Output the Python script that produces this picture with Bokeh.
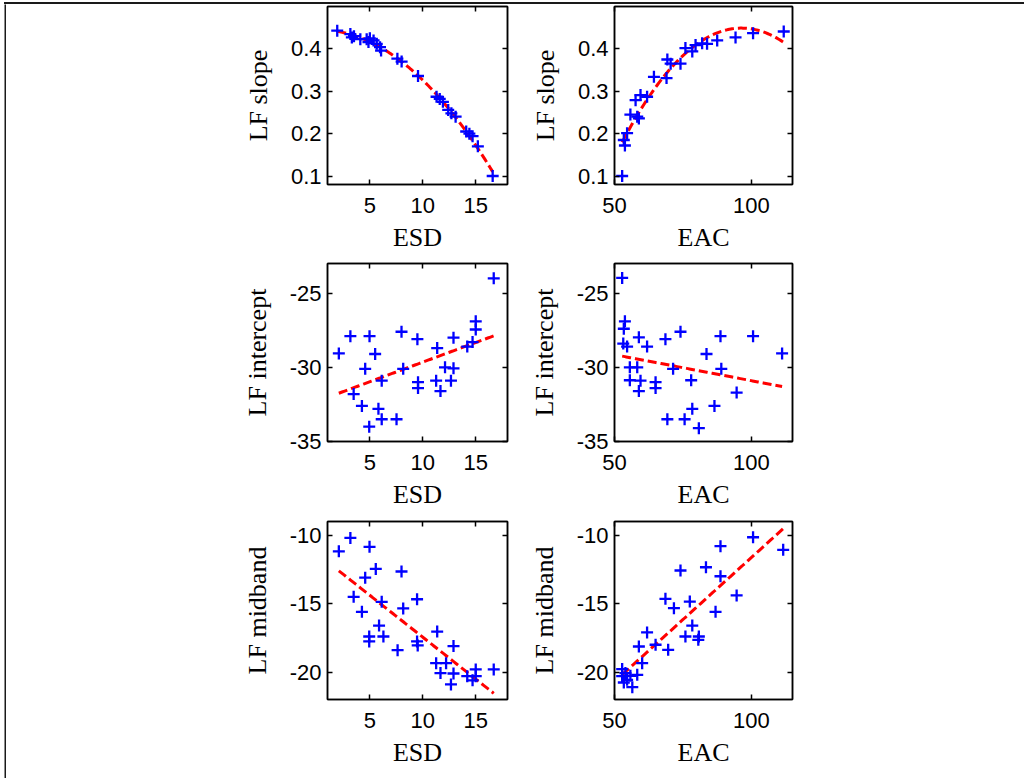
import numpy as np
from bokeh.plotting import figure
from bokeh.layouts import column, row, Spacer
from bokeh.models import FixedTicker, LinearAxis, Range1d, Div
from bokeh.embed import file_html
from bokeh.resources import INLINE

# ---------------- data ----------------
esd_slope_x = [1.92, 3.16, 3.3, 3.5, 4.1, 4.7, 4.87, 5.0, 5.35, 5.65, 5.96, 6.06, 7.6, 8.0,
               9.55, 11.3, 11.6, 11.9, 12.4, 12.7, 13.1, 14.1, 14.4, 14.7, 15.2, 16.6]
esd_slope_y = [0.443, 0.435, 0.427, 0.430, 0.423, 0.423, 0.416, 0.425, 0.42, 0.412, 0.404, 0.396,
               0.377, 0.37, 0.336, 0.287, 0.282, 0.275, 0.256, 0.248, 0.24, 0.205, 0.2, 0.194,
               0.17, 0.10]

eac_slope_x = [52.8, 53.4, 53.8, 54.6, 55.8, 58.3, 58.9, 57.7, 59.5, 61.9, 64.4, 69.0, 69.3,
               70.5, 74.1, 75.9, 78.4, 79.6, 82.0, 83.8, 87.5, 94.2, 100.6, 111.8]
eac_slope_y = [0.100, 0.185, 0.172, 0.201, 0.245, 0.240, 0.236, 0.279, 0.291, 0.287, 0.334,
               0.331, 0.375, 0.365, 0.365, 0.402, 0.394, 0.409, 0.413, 0.412, 0.420, 0.427,
               0.437, 0.441]

esd_int_x = [2.07, 3.16, 4.97, 4.56, 5.5, 3.47, 4.25, 4.94, 5.81, 6.12, 7.52, 6.12, 7.99, 8.15,
             9.49, 9.55, 9.55, 11.36, 11.26, 11.67, 12.1, 12.9, 12.66, 12.9, 14.2, 15.0, 15.0,
             14.7, 16.7]
esd_int_y = [-29.06, -27.9, -27.9, -30.1, -29.1, -31.8, -32.6, -34.0, -32.8, -33.5, -33.5,
             -30.9, -27.6, -30.1, -28.1, -31.0, -31.4, -28.7, -30.9, -31.6, -30.0, -30.07,
             -30.9, -28.0, -28.6, -26.9, -27.45, -28.3, -24.0]

eac_int_x = [52.8, 53.8, 53.4, 53.2, 54.6, 58.9, 61.9, 55.6, 58.3, 55.6, 59.5, 58.9, 65.0,
             65.0, 68.6, 74.1, 71.4, 69.3, 75.6, 78.4, 80.8, 78.0, 83.6, 88.7, 89.0, 86.5,
             94.6, 100.6, 111.2]
eac_int_y = [-23.97, -26.9, -27.4, -28.4, -28.6, -27.98, -28.6, -30.0, -30.0, -30.87, -30.9,
             -31.6, -31.0, -31.4, -28.1, -27.6, -30.1, -33.5, -33.5, -32.8, -34.1, -30.87,
             -29.1, -27.9, -30.1, -32.6, -31.7, -27.9, -29.06]

esd_mid_x = [2.07, 3.16, 4.97, 4.56, 5.56, 3.47, 4.25, 4.94, 4.94, 5.87, 6.28, 6.12, 7.99,
             8.15, 7.62, 9.46, 9.46, 9.52, 11.36, 11.26, 11.67, 12.2, 12.9, 12.9, 12.66, 14.2,
             15.0, 15.0, 14.7, 16.7]
esd_mid_y = [-11.18, -10.2, -10.85, -13.1, -12.46, -14.5, -15.6, -17.4, -17.76, -16.6, -17.4,
             -14.87, -12.65, -15.35, -18.4, -14.68, -17.76, -18.05, -17.04, -19.35, -20.07,
             -19.35, -18.1, -20.1, -20.9, -20.3, -19.8, -20.3, -20.6, -19.8]

eac_mid_x = [52.8, 54.0, 52.8, 54.6, 53.4, 56.5, 55.8, 58.3, 60.1, 58.9, 61.9, 65.0, 69.6,
             68.6, 71.7, 74.1, 77.5, 78.4, 75.9, 80.8, 80.6, 83.4, 88.7, 88.7, 86.9, 94.6,
             100.6, 111.6]
eac_mid_y = [-19.78, -20.07, -20.3, -20.56, -20.76, -21.1, -20.27, -20.2, -19.35, -18.13,
             -17.1, -18.0, -18.37, -14.65, -15.33, -12.58, -14.85, -16.6, -17.4, -17.4, -17.64,
             -12.34, -13.0, -10.8, -15.6, -14.4, -10.15, -11.07]

esd_ticks = [5, 10, 15]
eac_ticks = [50, 100]
slope_ticks = [0.1, 0.2, 0.3, 0.4]
int_ticks = [-35, -30, -25]
mid_ticks = [-20, -15, -10]

# ---------------- styling helpers ----------------
TICK_FONT = "Liberation Sans"
LABEL_FONT = "Liberation Serif"


def tick_text(ticks):
    return {t: f"{t:g}" for t in ticks}


def style_axis(ax, ticks, hidden=False):
    ax.ticker = FixedTicker(ticks=ticks)
    ax.axis_line_color = "black"
    ax.axis_line_width = 1.5
    ax.major_tick_line_color = "black"
    ax.major_tick_line_width = 1.5
    ax.major_tick_in = 5
    ax.major_tick_out = 0
    ax.minor_tick_line_color = None
    if hidden:
        ax.major_label_text_color = None
        ax.major_label_text_font_size = "1px"
        ax.major_label_standoff = 0
    else:
        ax.major_label_overrides = tick_text(ticks)
        ax.major_label_text_font = TICK_FONT
        ax.major_label_text_font_size = "22px"
        ax.major_label_text_color = "black"
        ax.axis_label_text_font = LABEL_FONT
        ax.axis_label_text_font_size = "26px"
        ax.axis_label_text_font_style = "normal"
        ax.axis_label_text_color = "black"


def panel(xs, ys, deg, xr, yr, xticks, yticks, xlabel, ylabel,
          fw, fh, mbl, mbr, mbt, mbb):
    p = figure(frame_width=fw, frame_height=fh,
               x_range=Range1d(*xr), y_range=Range1d(*yr),
               output_backend="svg", toolbar_location=None,
               min_border_left=mbl, min_border_right=mbr,
               min_border_top=mbt, min_border_bottom=mbb,
               background_fill_color="white", border_fill_color="white")
    p.xgrid.visible = False
    p.ygrid.visible = False
    p.outline_line_color = "black"
    p.outline_line_width = 1.5
    p.outline_line_alpha = 1.0

    p.xaxis.axis_label = xlabel
    p.yaxis.axis_label = ylabel
    for ax in p.xaxis:
        style_axis(ax, xticks)
        ax.major_label_standoff = 13
        ax.axis_label_standoff = 7
    for ax in p.yaxis:
        style_axis(ax, yticks)
        ax.major_label_standoff = 6
        ax.axis_label_standoff = 15

    top = LinearAxis()
    style_axis(top, xticks, hidden=True)
    p.add_layout(top, "above")
    right = LinearAxis()
    style_axis(right, yticks, hidden=True)
    p.add_layout(right, "right")

    # fitted curve (least squares on the plotted points)
    xa = np.asarray(xs, dtype=float)
    ya = np.asarray(ys, dtype=float)
    coef = np.polyfit(xa, ya, deg)
    fx = np.linspace(xa.min(), xa.max(), 120)
    fy = np.polyval(coef, fx)
    p.line(fx, fy, line_color="#FF0000", line_width=3, line_dash="9 4")

    p.scatter(xs, ys, marker="cross", size=12, line_color="#0000FF",
              line_width=2.3, fill_color=None)
    return p


def bar_fig(w, h):
    b = figure(width=w, height=h, x_axis_type=None, y_axis_type=None,
               title=None, min_border=0, output_backend="svg",
               toolbar_location=None,
               background_fill_color="#1a1a1a", border_fill_color="#1a1a1a",
               outline_line_color=None)
    b.xgrid.visible = False
    b.ygrid.visible = False
    return b


ESD_R = (1, 18)
EAC_R = (50, 115)
LW, RW = 180, 178
L_MBL, L_MBR = 321, 8
R_MBL, R_MBR = 99, 10

p1 = panel(esd_slope_x, esd_slope_y, 2, ESD_R, (0.08, 0.5), esd_ticks, slope_ticks,
           "ESD", "LF slope", LW, 178, L_MBL, L_MBR, 2, 74)
p2 = panel(eac_slope_x, eac_slope_y, 2, EAC_R, (0.08, 0.5), eac_ticks, slope_ticks,
           "EAC", "LF slope", RW, 178, R_MBL, R_MBR, 2, 74)
p3 = panel(esd_int_x, esd_int_y, 1, ESD_R, (-35, -23), esd_ticks, int_ticks,
           "ESD", "LF intercept", LW, 178, L_MBL, L_MBR, 5, 75)
p4 = panel(eac_int_x, eac_int_y, 1, EAC_R, (-35, -23), eac_ticks, int_ticks,
           "EAC", "LF intercept", RW, 178, R_MBL, R_MBR, 5, 75)
p5 = panel(esd_mid_x, esd_mid_y, 1, ESD_R, (-22, -9), esd_ticks, mid_ticks,
           "ESD", "LF midband", LW, 178, L_MBL, L_MBR, 5, 70)
p6 = panel(eac_mid_x, eac_mid_y, 1, EAC_R, (-22, -9), eac_ticks, mid_ticks,
           "EAC", "LF midband", RW, 178, R_MBL, R_MBR, 5, 70)

grid = column(row(p1, p2), row(p3, p4), row(p5, p6))

top_bar = Div(text="", width=1020, height=2, margin=(0, 0, 0, 0),
              styles={"background-color": "#1a1a1a"})

layout = row(
    Spacer(width=4, height=10),
    column(
        Spacer(width=10, height=2),
        top_bar,
        row(bar_fig(2, 774), grid),
    ),
)

open("out.html", "w").write(file_html(layout, INLINE))
